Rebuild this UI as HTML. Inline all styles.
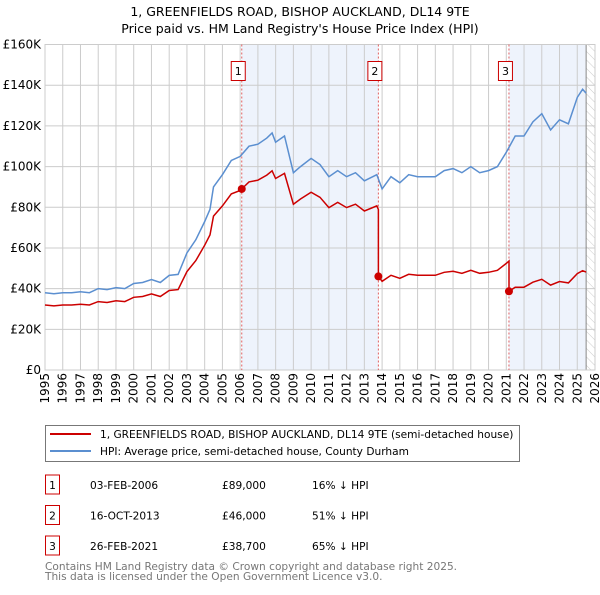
<!DOCTYPE html>
<html><head><meta charset="utf-8"><style>
body{margin:0;background:#fff;}
svg text{font-family:"DejaVu Sans","Liberation Sans",sans-serif;}
</style></head><body>
<svg id="chart" width="600" height="590" xmlns="http://www.w3.org/2000/svg">
<defs><pattern id="hatch" width="6" height="6" patternUnits="userSpaceOnUse" patternTransform="rotate(-45)"><line x1="0" y1="0" x2="0" y2="6" stroke="#ccc" stroke-width="1"/></pattern></defs>
<text x="300" y="16" text-anchor="middle" font-size="12.5">1, GREENFIELDS ROAD, BISHOP AUCKLAND, DL14 9TE</text>
<text x="300" y="33" text-anchor="middle" font-size="12.5">Price paid vs. HM Land Registry's House Price Index (HPI)</text>
<g id="plot"></g>
<g>
<rect x="45.5" y="425.5" width="474" height="36" fill="#fff" stroke="#777"/>
<line x1="50" y1="434" x2="91" y2="434" stroke="#cc0000" stroke-width="2"/>
<text x="100" y="438" font-size="10.6">1, GREENFIELDS ROAD, BISHOP AUCKLAND, DL14 9TE (semi-detached house)</text>
<line x1="50" y1="451" x2="91" y2="451" stroke="#5b8fd0" stroke-width="2"/>
<text x="100" y="455" font-size="10.6">HPI: Average price, semi-detached house, County Durham</text>
</g>
<g id="table" font-size="10.6"></g>
<text x="45" y="570" font-size="10.6" fill="#777">Contains HM Land Registry data © Crown copyright and database right 2025.</text>
<text x="45" y="580" font-size="10.6" fill="#777">This data is licensed under the Open Government Licence v3.0.</text>
</svg>
<script>
const hpiYears=[1995,1995.5,1996,1996.5,1997,1997.5,1998,1998.5,1999,1999.5,2000,2000.5,2001,2001.5,2002,2002.5,2003,2003.5,2004,2004.3,2004.5,2005,2005.5,2006,2006.5,2007,2007.5,2007.8,2008,2008.5,2009,2009.4,2010,2010.5,2011,2011.5,2012,2012.5,2013,2013.7,2014,2014.5,2015,2015.5,2016,2016.5,2017,2017.5,2018,2018.5,2019,2019.5,2020,2020.5,2021,2021.5,2022,2022.5,2023,2023.5,2024,2024.5,2025,2025.3,2025.5];
const hpiValues=[38,37.5,38,38,38.5,38,40,39.5,40.5,40,42.5,43,44.5,43,46.5,47,57.5,64,73,79,90,96,103,105,110,111,114,116.5,112,115,97,100,104,101,95,98,95,97,93,96,89,95,92,96,95,95,95,98,99,97,100,97,98,100,107,115,115,122,126,118,123,121,134,138,136];
const saleLabels=["1","2","3"];
const saleDates=["03-FEB-2006","16-OCT-2013","26-FEB-2021"];
const saleYears=[2006.09,2013.79,2021.15];
const salePrices=[89,46,38.7];
const saleDiffs=["16% ↓ HPI","51% ↓ HPI","65% ↓ HPI"];
const yTicks=[0,20,40,60,80,100,120,140,160];
const xTicks=[];for(let y=1995;y<=2026;y++)xTicks.push(y);

const NS="http://www.w3.org/2000/svg";
const X0=45,X1=595,Y0=370,Y1=44.5;
const xs=t=>X0+(t-1995)/(2026-1995)*(X1-X0);
const ys=v=>Y0-v/160*(Y0-Y1);
function mk(tag,attrs,parent){const e=document.createElementNS(NS,tag);for(const k in attrs)e.setAttribute(k,attrs[k]);parent.appendChild(e);return e;}
const plot=document.getElementById('plot');
function hpiAt(t){for(let i=0;i<hpiYears.length-1;i++){if(t<=hpiYears[i+1]){const f=(t-hpiYears[i])/(hpiYears[i+1]-hpiYears[i]);return hpiValues[i]+f*(hpiValues[i+1]-hpiValues[i]);}}return hpiValues[hpiValues.length-1];}
for(let i=0;i<saleYears.length;i+=2){
  const end=i+1<saleYears.length?saleYears[i+1]:2025.5;
  const r=mk('rect',{x:xs(saleYears[i]),y:Y1,width:xs(end)-xs(saleYears[i]),height:Y0-Y1,fill:'#eef3fc'},plot);
  
  
}
const hat=mk('rect',{x:xs(2025.5),y:Y1,width:X1-xs(2025.5),height:Y0-Y1,fill:'url(#hatch)'},plot);


yTicks.forEach(v=>{
  mk('line',{x1:X0,x2:X1,y1:ys(v),y2:ys(v),stroke:'#ccc'},plot);
  const t=mk('text',{x:X0-4,y:ys(v)+4,'text-anchor':'end','font-size':'12'},plot);t.textContent='£'+(v?v+'K':'0');
  
  
});
xTicks.forEach(y=>{
  mk('line',{x1:xs(y),x2:xs(y),y1:Y1,y2:Y0,stroke:'#ccc'},plot);
  const t=mk('text',{x:0,y:0,'text-anchor':'end','font-size':'12',transform:`translate(${xs(y)+4},${Y0+3}) rotate(-90)`},plot);t.textContent=y;
  
  
});
mk('line',{x1:xs(2025.5),x2:xs(2025.5),y1:Y1,y2:Y0,stroke:'#888'},plot);
mk('rect',{x:X0,y:Y1,width:X1-X0,height:Y0-Y1,fill:'none',stroke:'#ccc'},plot);
saleYears.forEach((s,i)=>{
  const l=mk('line',{x1:xs(s),x2:xs(s),y1:Y1,y2:Y0,stroke:'#e06060','stroke-dasharray':'2,2'},plot);
  
  
  const g=mk('g',{},plot);
  
  
  mk('rect',{x:xs(s)-10.5,y:61.5,width:14,height:19,fill:'#fff',stroke:'#cc0000'},g);
  const t=mk('text',{x:xs(s)-3.5,y:75,'text-anchor':'middle','font-size':'11'},g);t.textContent=saleLabels[i];
});
let d='';hpiYears.forEach((t,i)=>{d+=(i?'L':'M')+xs(t).toFixed(1)+','+ys(hpiValues[i]).toFixed(1);});
const hp=mk('path',{d,fill:'none',stroke:'#5b8fd0','stroke-width':1.5},plot);


function ratioAt(t){let k=0;for(let i=0;i<saleYears.length;i++)if(t>=saleYears[i])k=i;return salePrices[k]/hpiAt(saleYears[k]);}
const pts=[...hpiYears,...saleYears].sort((a,b)=>a-b);
let rd='';pts.forEach((t,i)=>{
  const j=saleYears.indexOf(t);
  if(j>0){rd+='L'+xs(t).toFixed(1)+','+ys(hpiAt(t)*salePrices[j-1]/hpiAt(saleYears[j-1])).toFixed(1);}
  rd+=(i?'L':'M')+xs(t).toFixed(1)+','+ys(hpiAt(t)*ratioAt(t)).toFixed(1);
});
const rp=mk('path',{d:rd,fill:'none',stroke:'#cc0000','stroke-width':1.5},plot);


saleYears.forEach((s,i)=>{
  const c=mk('circle',{cx:xs(s),cy:ys(salePrices[i]),r:4,fill:'#cc0000'},plot);
  
  
});
const tb=document.getElementById('table');
saleYears.forEach((s,i)=>{
  const y=485+i*30.5;
  const g=mk('g',{},tb);
  
  
  mk('rect',{x:45.5,y:y-10,width:14,height:19,fill:'#fff',stroke:'#cc0000'},g);
  const cells=[[52.5,saleLabels[i],'middle'],[90,saleDates[i],'start'],[222,'£'+salePrices[i].toLocaleString('en-GB',{minimumFractionDigits:3}).replace('.',','),'start'],[312,saleDiffs[i],'start']];
  cells.forEach(c=>{const t=mk('text',{x:c[0],y:y+4,'text-anchor':c[2]},g);t.textContent=c[1];});
});
</script>
</body></html>
